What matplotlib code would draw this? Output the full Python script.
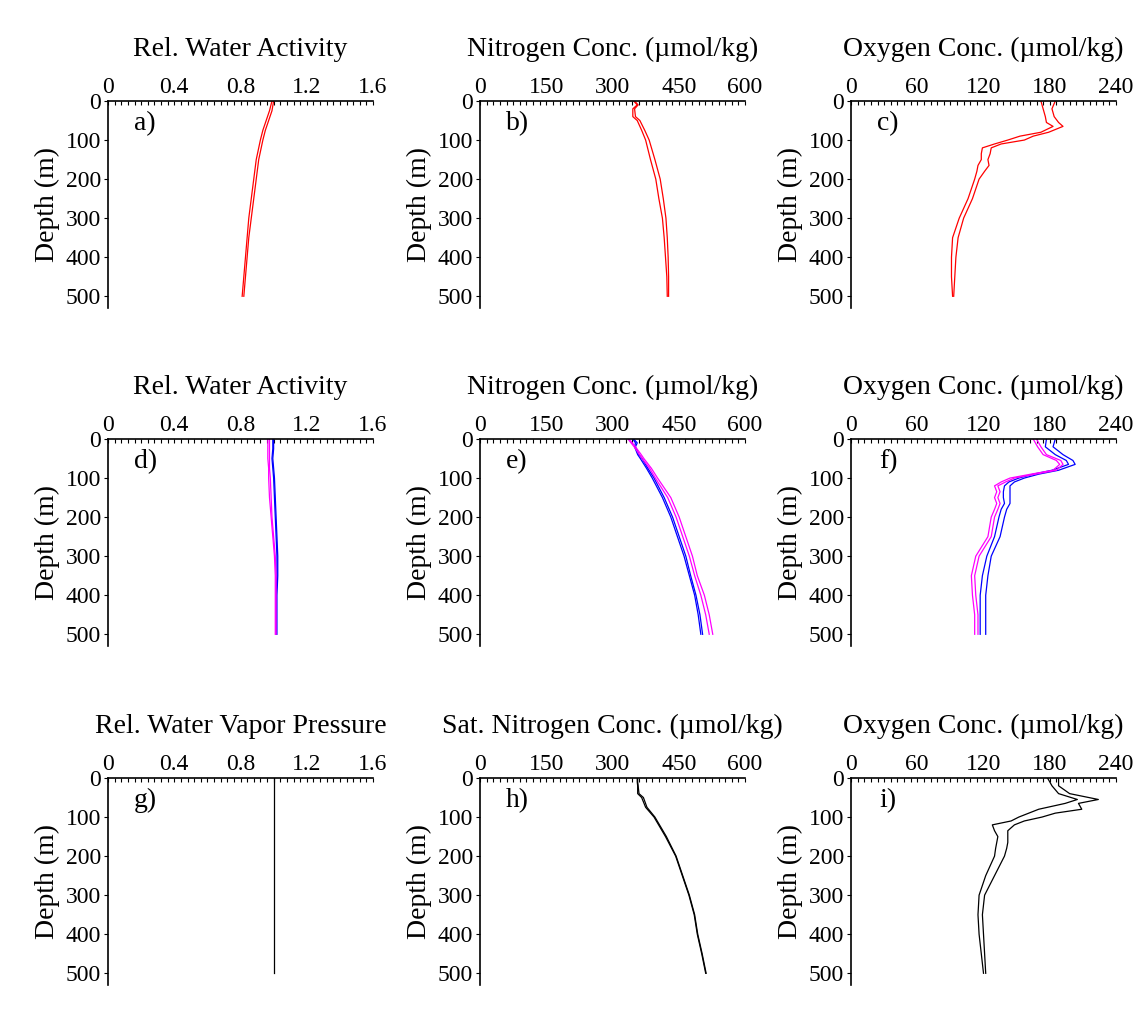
import matplotlib
matplotlib.use("Agg")
import matplotlib.pyplot as plt
from matplotlib.ticker import MultipleLocator

plt.rcParams['font.family'] = ['Liberation Serif', 'DejaVu Serif']

# ---- data (depth in m) ----
# a) relative water activity, two red profiles
aw_depth = [0, 25, 50, 75, 100, 150, 200, 250, 300, 350, 400, 450, 500]
aw_red1 = [1.00, 0.99, 0.97, 0.95, 0.935, 0.91, 0.895, 0.88, 0.865, 0.85, 0.84, 0.83, 0.82]
aw_red2 = [0.99, 0.975, 0.955, 0.935, 0.92, 0.895, 0.88, 0.865, 0.85, 0.84, 0.83, 0.82, 0.81]

# d) relative water activity, blue and magenta profiles
aw_blue1 = [1.00, 1.00, 0.995, 1.00, 1.005, 1.01, 1.015, 1.02, 1.025, 1.025, 1.02, 1.02, 1.02]
aw_blue2 = [0.995, 0.995, 0.99, 0.995, 1.00, 1.005, 1.01, 1.015, 1.02, 1.02, 1.015, 1.015, 1.015]
aw_mag1 = [0.975, 0.975, 0.975, 0.975, 0.98, 0.985, 0.99, 1.00, 1.01, 1.015, 1.015, 1.015, 1.015]
aw_mag2 = [0.965, 0.965, 0.965, 0.97, 0.97, 0.975, 0.985, 0.995, 1.005, 1.01, 1.01, 1.01, 1.01]

# g) relative water vapor pressure
vp_depth = [0, 500]
vp_black = [1.0, 1.0]

# b) nitrogen, red
n_depth = [0, 10, 20, 40, 50, 75, 100, 150, 200, 250, 300, 350, 400, 450, 500]
n_red1 = [348, 356, 346, 346, 356, 366, 375, 386, 398, 405, 413, 417, 420, 423, 424]
n_red2 = [350, 358, 350, 352, 362, 373, 383, 396, 408, 415, 421, 424, 426, 427, 427]

# e) nitrogen, blue and magenta
n_blue1 = [348, 356, 352, 360, 367, 380, 394, 417, 436, 451, 466, 477, 489, 498, 504]
n_blue2 = [346, 352, 350, 357, 363, 377, 390, 413, 432, 447, 462, 474, 486, 494, 500]
n_mag1 = [337, 345, 352, 365, 371, 388, 402, 432, 451, 466, 481, 492, 508, 519, 527]
n_mag2 = [335, 342, 349, 361, 367, 384, 397, 425, 444, 459, 474, 486, 500, 511, 519]

# h) saturation nitrogen, black
n_black1 = [356, 356, 357, 357, 366, 375, 394, 420, 443, 458, 473, 485, 492, 502, 511]
n_black2 = [357, 357, 358, 360, 370, 378, 396, 422, 444, 459, 474, 486, 493, 503, 512]

# c) oxygen, red
o_depth = [0, 20, 40, 55, 65, 80, 90, 100, 110, 120, 135, 150, 165, 180, 200,
           250, 300, 350, 400, 450, 500]
o_red1 = [172, 174, 176, 177, 183, 172, 153, 142, 130, 119, 118, 118, 115, 114, 112,
          106, 98, 92, 91, 91, 92]
o_red2 = [185, 182, 184, 188, 192, 179, 165, 157, 136, 127, 126, 124, 125, 121, 116,
          110, 102, 97, 95, 94, 93]

# f) oxygen, blue and magenta
o_blue1 = [185, 183, 192, 201, 203, 188, 170, 157, 148, 144, 144, 144, 144, 141, 139,
           135, 127, 124, 122, 122, 122]
o_blue2 = [177, 176, 185, 195, 197, 182, 165, 152, 143, 139, 138, 138, 139, 136, 134,
           130, 123, 119, 117, 117, 117]
o_mag1 = [168, 172, 177, 190, 192, 186, 167, 148, 140, 133, 135, 133, 135, 133, 130,
          127, 116, 112, 113, 115, 115]
o_mag2 = [165, 169, 174, 186, 189, 183, 163, 144, 136, 130, 132, 130, 132, 130, 127,
          124, 113, 109, 110, 112, 112]

# i) oxygen, black
o_black1 = [188, 188, 198, 224, 206, 209, 185, 173, 157, 148, 142, 142, 142, 141, 139,
            130, 121, 119, 120, 121, 122]
o_black2 = [178, 182, 188, 205, 194, 170, 161, 152, 145, 128, 130, 133, 132, 131, 130,
            122, 116, 115, 116, 118, 120]

titles = [["Rel. Water Activity", "Nitrogen Conc. (\u00b5mol/kg)", "Oxygen Conc. (\u00b5mol/kg)"],
          ["Rel. Water Activity", "Nitrogen Conc. (\u00b5mol/kg)", "Oxygen Conc. (\u00b5mol/kg)"],
          ["Rel. Water Vapor Pressure", "Sat. Nitrogen Conc. (\u00b5mol/kg)", "Oxygen Conc. (\u00b5mol/kg)"]]
letters = [["a)", "b)", "c)"], ["d)", "e)", "f)"], ["g)", "h)", "i)"]]
xmax = [1.6, 600, 240]
xmajor = [0.4, 150, 60]
xminor = [0.04, 15, 6]

panels = [
    [[(aw_depth, aw_red1, 'red'), (aw_depth, aw_red2, 'red')],
     [(n_depth, n_red1, 'red'), (n_depth, n_red2, 'red')],
     [(o_depth, o_red1, 'red'), (o_depth, o_red2, 'red')]],
    [[(aw_depth, aw_blue1, 'blue'), (aw_depth, aw_blue2, 'blue'),
      (aw_depth, aw_mag1, 'magenta'), (aw_depth, aw_mag2, 'magenta')],
     [(n_depth, n_blue1, 'blue'), (n_depth, n_blue2, 'blue'),
      (n_depth, n_mag1, 'magenta'), (n_depth, n_mag2, 'magenta')],
     [(o_depth, o_blue1, 'blue'), (o_depth, o_blue2, 'blue'),
      (o_depth, o_mag1, 'magenta'), (o_depth, o_mag2, 'magenta')]],
    [[(vp_depth, vp_black, 'black')],
     [(n_depth, n_black1, 'black'), (n_depth, n_black2, 'black')],
     [(o_depth, o_black1, 'black'), (o_depth, o_black2, 'black')]],
]

W, H = 1144, 1016
fig = plt.figure(figsize=(W / 100, H / 100), dpi=100)
fig.patch.set_facecolor('white')

lefts = [108, 480, 851]
tops = [101, 439, 778]
aw, ah = 265, 207

for r in range(3):
    for c in range(3):
        ax = fig.add_axes([lefts[c] / W, 1 - (tops[r] + ah) / H, aw / W, ah / H])
        for d, x, col in panels[r][c]:
            ax.plot(x, d, color=col, lw=0.9)
        ax.set_xlim(0, xmax[c])
        ax.set_ylim(530, 0)
        ax.xaxis.set_ticks_position('top')
        ax.xaxis.set_label_position('top')
        ax.xaxis.set_major_locator(MultipleLocator(xmajor[c]))
        ax.xaxis.set_minor_locator(MultipleLocator(xminor[c]))
        ax.yaxis.set_major_locator(MultipleLocator(100))
        if c == 0:
            ax.set_xticks([0, 0.4, 0.8, 1.2, 1.6])
            ax.set_xticklabels(["0", "0.4", "0.8", "1.2", "1.6"])
        ax.spines['right'].set_visible(False)
        ax.spines['bottom'].set_visible(False)
        ax.spines['top'].set_linewidth(1.2)
        ax.spines['left'].set_linewidth(1.2)
        ax.tick_params(axis='x', which='both', direction='in', length=3, width=0.8,
                       labelsize=17, pad=2)
        ax.tick_params(axis='y', which='major', direction='out', length=3, width=0.8,
                       labelsize=17, pad=2)
        ax.set_ylabel("Depth (m)", fontsize=20, labelpad=4)
        ax.text(0.5, 1.25, titles[r][c], transform=ax.transAxes, ha='center',
                va='center', fontsize=20)
        ax.text(0.14, 0.89, letters[r][c], transform=ax.transAxes, ha='center',
                va='center', fontsize=20)

fig.savefig("out.png", dpi=100, facecolor='white')
